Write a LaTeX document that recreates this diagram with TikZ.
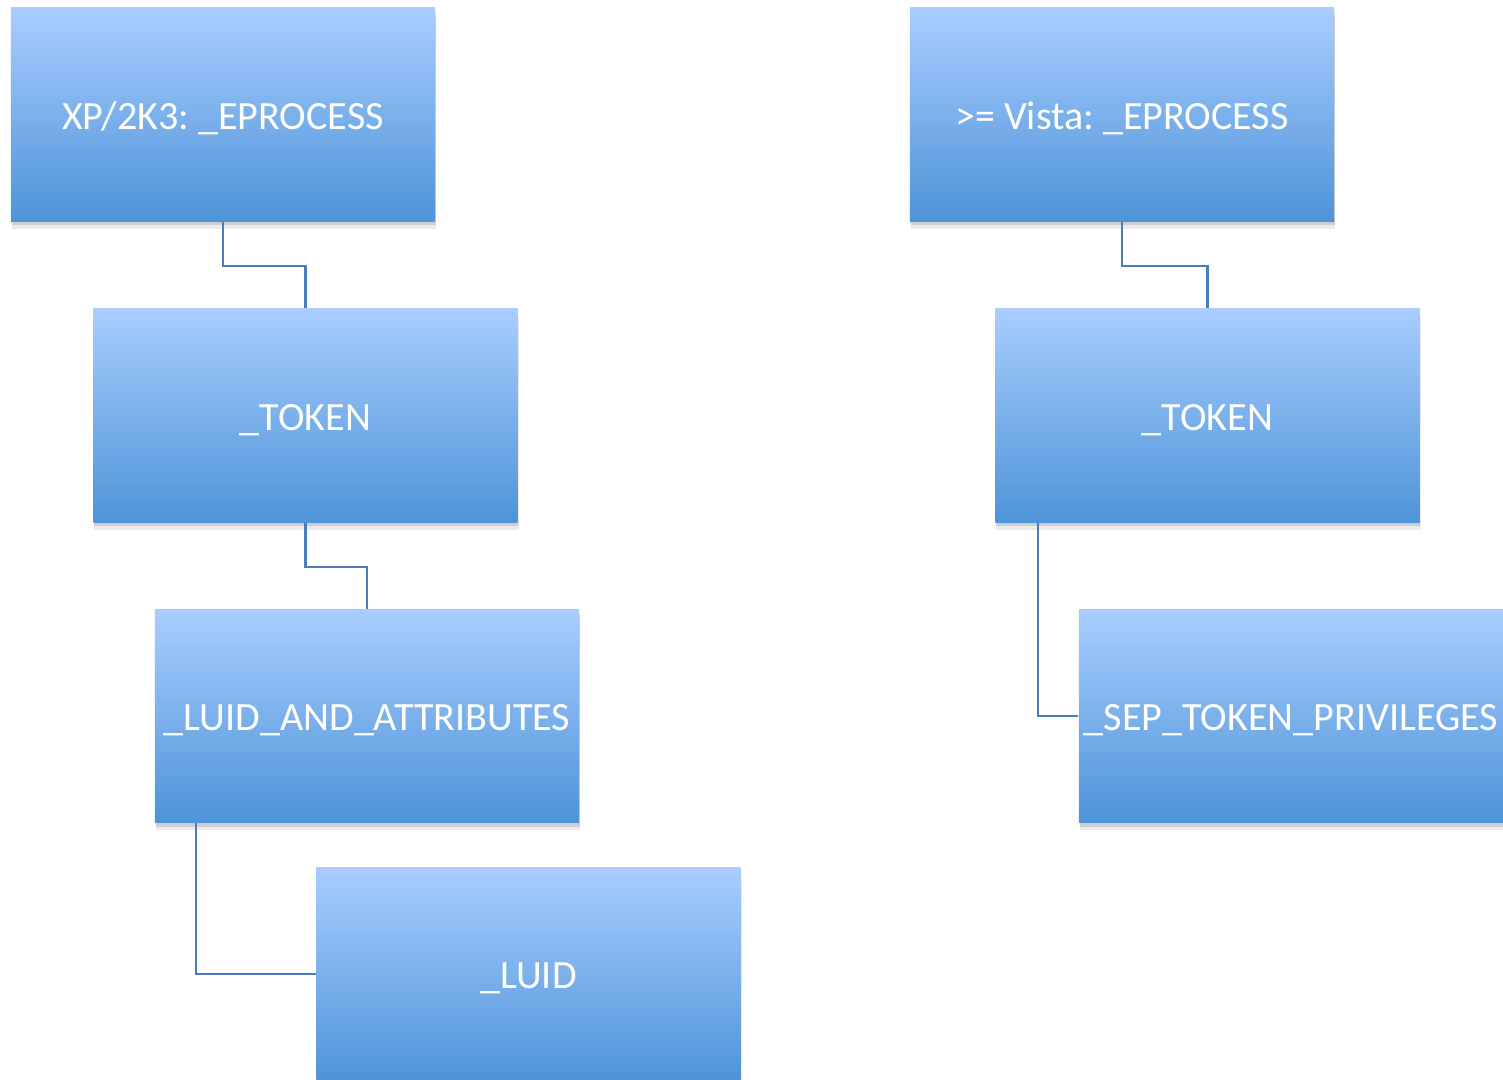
\documentclass[tikz,border=0pt]{standalone}
\usepackage{fontspec}
\setmainfont{Carlito}
\frenchspacing
\usetikzlibrary{shadows}
\definecolor{boxtop}{HTML}{A9CDFF}
\definecolor{boxbot}{HTML}{4E94D8}
\definecolor{linkblue}{HTML}{4A7EBB}
\tikzstyle{box}=[rectangle,minimum width=4.24cm,minimum height=2.13cm,inner sep=0pt,text height=0.84em,text depth=0pt,top color=boxtop,bottom color=boxbot,text=white,font=\fontsize{11.4}{13}\selectfont,drop shadow={shadow xshift=0.3pt,shadow yshift=-2.2pt,fill=black,opacity=0.08},drop shadow={shadow xshift=0.2pt,shadow yshift=-1.2pt,fill=black,opacity=0.12}]
\tikzstyle{link}=[draw=linkblue,line width=0.6pt]

\begin{document}
\begin{tikzpicture}[x=0.01cm,y=-0.01cm]
\useasboundingbox (0,0) rectangle (1503,1080);
\node[box] at (223, 114.5) (ep1) {XP/2K3: \_EPROCESS};
\node[box] at (305.5, 415.5) (tok1) {\_TOKEN};
\node[box] at (367, 716) (attr) {\_LUID\_AND\_ATTRIBUTES};
\node[box] at (528.5, 974) (luid) {\_LUID};
\node[box] at (1122, 114.5) (ep2) {>= Vista: \_EPROCESS};
\node[box] at (1207.5, 415.5) (tok2) {\_TOKEN};
\node[box] at (1291, 716) (sep) {\_SEP\_TOKEN\_PRIVILEGES};
\draw[link] (ep1.south) -- ++(0,44) -| (tok1.north);
\draw[link] (tok1.south) -- ++(0,44) -| (attr.north);
\draw[link] ([xshift=0.42cm]attr.south west) |- (luid.west);
\draw[link] (ep2.south) -- ++(0,44) -| (tok2.north);
\draw[link] ([xshift=0.43cm]tok2.south west) |- (sep.west);
\end{tikzpicture}
\end{document}
